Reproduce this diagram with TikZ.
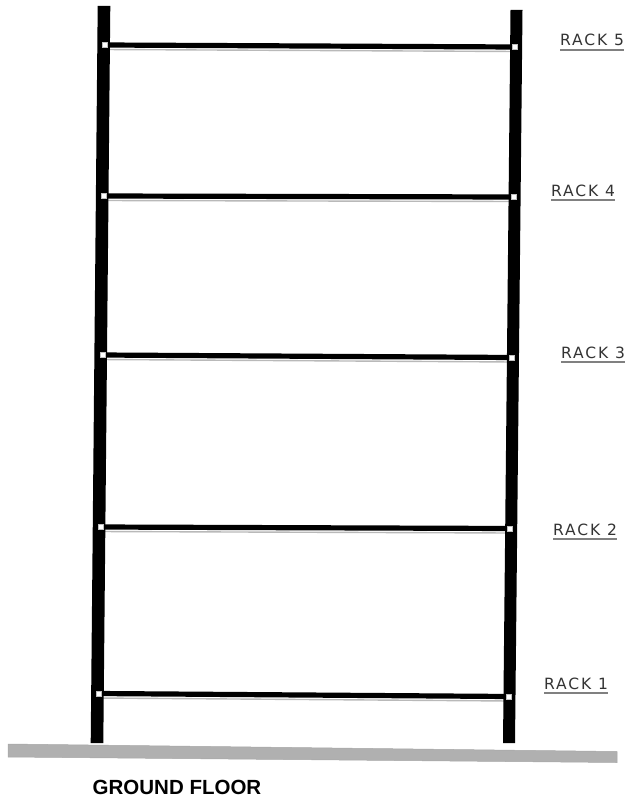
\documentclass[tikz,border=0pt]{standalone}
\usepackage{fontspec}
\setmainfont{Liberation Sans}
\newfontfamily\rackfont{DejaVu Sans}
\begin{document}
\begin{tikzpicture}[x=1pt,y=-1pt,
  postfill/.style={fill=black},
  shelf/.style={line width=5.2pt,black},
  shelfshadow/.style={line width=1.4pt,gray!55},
  joint/.style={fill=white,draw=gray!50,line width=0.4pt,minimum size=5pt,inner sep=0pt},
  racklabel/.style={font=\rackfont\fontsize{15.5}{15.5}\selectfont\addfontfeature{LetterSpace=12},text=black!80,inner sep=0pt,anchor=base west},
  ul/.style={line width=1.8pt,black!50},
  floor/.style={fill=gray!62,draw=gray!70,line width=0.5pt},
  floorlabel/.style={font=\fontsize{20.5}{20.5}\selectfont\bfseries,inner sep=0pt},
]
\useasboundingbox (0,0) rectangle (641,800);

% posts
\coordinate (LT) at (104,6);
\coordinate (LB) at (97,743);
\coordinate (RT) at (516.5,10);
\coordinate (RB) at (509,743);

% shelf ends
\coordinate (L5) at (103.6,45); \coordinate (R5) at (516.1,47);
\coordinate (L4) at (102.2,196); \coordinate (R4) at (514.7,197);
\coordinate (L3) at (100.7,355); \coordinate (R3) at (513,357.5);
\coordinate (L2) at (99.1,527); \coordinate (R2) at (511.3,528.5);
\coordinate (L1) at (97.5,693.5); \coordinate (R1) at (509.7,696.5);

% shelves with shadow
\foreach \i in {1,...,5}{
  \draw[shelfshadow] ([yshift=-4.5pt]L\i) -- ([yshift=-4.5pt]R\i);
  \draw[shelf] (L\i) -- (R\i);
}

% posts
\fill[postfill] ([xshift=-6.3pt]LT) -- ([xshift=6.3pt]LT) -- ([xshift=6.3pt]LB) -- ([xshift=-6.3pt]LB) -- cycle;
\fill[postfill] ([xshift=-6pt]RT) -- ([xshift=6pt]RT) -- ([xshift=6pt]RB) -- ([xshift=-6pt]RB) -- cycle;

% joints
\foreach \i in {1,...,5}{
  \node[joint] (jL\i) at ([xshift=1.5pt]L\i) {};
  \node[joint] (jR\i) at ([xshift=-1.5pt]R\i) {};
}

% floor
\draw[floor] (8,744) -- (617,751.5) -- (617,762.5) -- (8,757) -- cycle;
\node[floorlabel] (gf) at (177,787) {GROUND FLOOR};

% rack labels
\node[racklabel] (r5) at (560,46) {RACK 5};
\node[racklabel] (r4) at (551,196) {RACK 4};
\node[racklabel] (r3) at (561,358) {RACK 3};
\node[racklabel] (r2) at (553,535) {RACK 2};
\node[racklabel] (r1) at (544,689) {RACK 1};
\foreach \n in {r1,r2,r3,r4,r5}{
  \draw[ul] ([yshift=-4pt]\n.base west) -- ([yshift=-4pt]\n.base east);
}
\end{tikzpicture}
\end{document}
